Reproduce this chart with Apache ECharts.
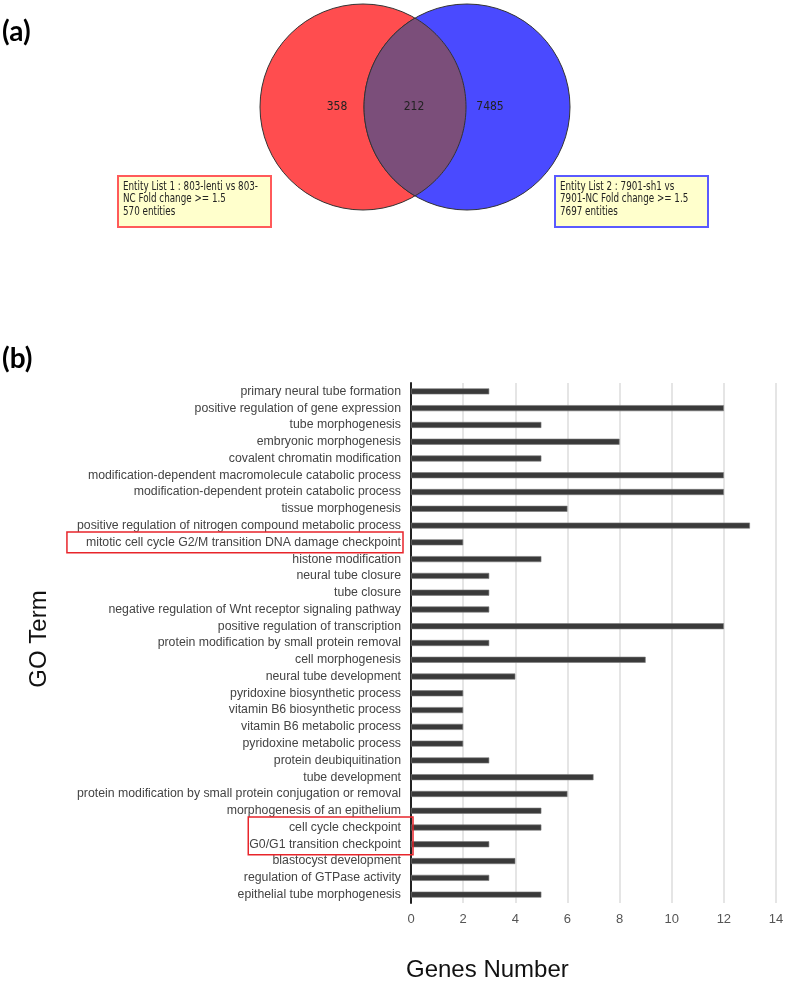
<!DOCTYPE html>
<html><head><meta charset="utf-8">
<script src="https://cdn.jsdelivr.net/npm/echarts@6/dist/echarts.min.js"></script>
<style>html,body{margin:0;padding:0;background:#fff}#c{width:787px;height:981px}</style>
</head><body><div id="c"></div>
<script>
// ---- data ----
const categories = [
  'primary neural tube formation',
  'positive regulation of gene expression',
  'tube morphogenesis',
  'embryonic morphogenesis',
  'covalent chromatin modification',
  'modification-dependent macromolecule catabolic process',
  'modification-dependent protein catabolic process',
  'tissue morphogenesis',
  'positive regulation of nitrogen compound metabolic process',
  'mitotic cell cycle G2/M transition DNA damage checkpoint',
  'histone modification',
  'neural tube closure',
  'tube closure',
  'negative regulation of Wnt receptor signaling pathway',
  'positive regulation of transcription',
  'protein modification by small protein removal',
  'cell morphogenesis',
  'neural tube development',
  'pyridoxine biosynthetic process',
  'vitamin B6 biosynthetic process',
  'vitamin B6 metabolic process',
  'pyridoxine metabolic process',
  'protein deubiquitination',
  'tube development',
  'protein modification by small protein conjugation or removal',
  'morphogenesis of an epithelium',
  'cell cycle checkpoint',
  'G0/G1 transition checkpoint',
  'blastocyst development',
  'regulation of GTPase activity',
  'epithelial tube morphogenesis'
];
const geneCounts = [3,12,5,8,5,12,12,6,13,2,5,3,3,3,12,3,9,4,2,2,2,2,3,7,6,5,5,3,4,3,5];
const xTickValues = [0,2,4,6,8,10,12,14];
const highlightGroups = [[9,9],[26,27]];
const vennCounts = [358, 212, 7485];          // only list 1, both, only list 2
const vennList1 = ['Entity List 1 : 803-lenti vs 803-', 'NC Fold change >= 1.5', '570 entities'];
const vennList2 = ['Entity List 2 : 7901-sh1 vs', '7901-NC Fold change >= 1.5', '7697 entities'];

// ---- chart ----
const chart = echarts.init(document.getElementById('c'), null, {renderer:'canvas'});
const FONT = '"Liberation Sans", Arial, sans-serif';
const LABEL_SIZE = 12.3;
chart.setOption({
  animation:false,
  backgroundColor:'#fff',
  grid:{left:411, right:11, top:383, bottom:78},
  xAxis:{type:'value', min:xTickValues[0], max:xTickValues[xTickValues.length-1], interval:2,
    axisLine:{show:false}, axisTick:{show:false},
    splitLine:{lineStyle:{color:'#dcdcdc', width:1.5}},
    axisLabel:{color:'#555', fontSize:13, margin:10, fontFamily:FONT}},
  yAxis:{type:'category', data:categories, inverse:true,
    axisLine:{lineStyle:{color:'#222', width:2}},
    axisTick:{length:4, lineStyle:{color:'#222', width:1.5}},
    axisLabel:{color:'#444', fontSize:LABEL_SIZE, margin:10, interval:0, fontFamily:FONT}},
  series:[{type:'bar', data:geneCounts, barWidth:6,
    itemStyle:{color:'#3a3a3a', borderColor:'#7a7a7a', borderWidth:0.6}}]
});

// ---- annotations ----
const ctx = document.createElement('canvas').getContext('2d');
ctx.font = LABEL_SIZE + 'px ' + FONT;
const axisX = chart.convertToPixel({xAxisIndex:0}, 0);
const band = chart.convertToPixel({yAxisIndex:0}, 1) - chart.convertToPixel({yAxisIndex:0}, 0);
const graphics = [];
highlightGroups.forEach((g, k) => {
  const y0 = chart.convertToPixel({yAxisIndex:0}, g[0]) - band*0.62;
  const y1 = chart.convertToPixel({yAxisIndex:0}, g[1]) + band*0.62;
  let w = 0;
  for (let i=g[0]; i<=g[1]; i++) w = Math.max(w, ctx.measureText(categories[i]).width);
  const right = k === 0 ? axisX - 8 : axisX + 2;
  const left = axisX - 10 - w - (k === 0 ? 19 : 1);
  graphics.push({type:'rect', shape:{x:left, y:y0, width:right-left, height:y1-y0},
    style:{fill:null, stroke:'#e8252b', lineWidth:1.5}, z:10});
});

// axis titles
graphics.push({type:'text', x:39, y:639, rotation:Math.PI/2,
  style:{text:'GO Term', font:'24px ' + FONT, fill:'#111', align:'center', verticalAlign:'middle'}});
graphics.push({type:'text', x:406, y:970,
  style:{text:'Genes Number', font:'24px ' + FONT, fill:'#111', align:'left', verticalAlign:'middle'}});

// panel letters
graphics.push({type:'text', x:2, y:32, style:{text:'(a)', font:'bold 28px Lato, "Open Sans", sans-serif', fill:'#000', verticalAlign:'middle'}});
graphics.push({type:'text', x:2, y:359, style:{text:'(b)', font:'bold 28px Lato, "Open Sans", sans-serif', fill:'#000', verticalAlign:'middle'}});

// Venn diagram
const r = 103, cy = 107, cxL = 363, cxR = 467;
graphics.push({type:'circle', shape:{cx:cxL, cy:cy, r:r}, style:{fill:'#ff4d4f', stroke:'#333', lineWidth:1}});
graphics.push({type:'circle', shape:{cx:cxR, cy:cy, r:r}, style:{fill:'#4a4aff', stroke:'#333', lineWidth:1}});
(function(){
  const mx = (cxL + cxR)/2, dy = Math.sqrt(r*r - (mx-cxL)*(mx-cxL));
  const aL = Math.atan2(dy, mx-cxL), aR = Math.atan2(dy, mx-cxR);
  const pts = [], N = 80;
  for (let i=0;i<=N;i++){ const a = -aL + 2*aL*i/N; pts.push([cxL + r*Math.cos(a), cy + r*Math.sin(a)]); }
  for (let i=1;i<N;i++){ const a = aR + (2*Math.PI - 2*aR)*i/N; pts.push([cxR + r*Math.cos(a), cy + r*Math.sin(a)]); }
  graphics.push({type:'polygon', shape:{points:pts}, style:{fill:'#7b4e7a', stroke:'#333', lineWidth:1}});
})();
const vennX = [337, 414, 490];
vennCounts.forEach((v, i) => graphics.push({type:'text', x:vennX[i], y:cy,
  style:{text:String(v), font:'12px "DejaVu Sans Condensed", "DejaVu Sans", sans-serif', fill:'#222', align:'center', verticalAlign:'middle'}, z:5}));

function listBox(x, color, lines){
  graphics.push({type:'rect', shape:{x:x, y:176, width:153, height:51},
    style:{fill:'#ffffcc', stroke:color, lineWidth:2}, z:6});
  graphics.push({type:'text', x:x+5, y:180, scaleX:0.75,
    style:{text:lines.join('\n'), font:'13px "DejaVu Sans Condensed", "DejaVu Sans", sans-serif',
      lineHeight:12.5, fill:'#222', align:'left', verticalAlign:'top'}, z:7});
}
listBox(118, '#ff5a5a', vennList1);
listBox(555, '#5a5aff', vennList2);

chart.setOption({graphic:{elements:graphics}});
</script></body></html>
